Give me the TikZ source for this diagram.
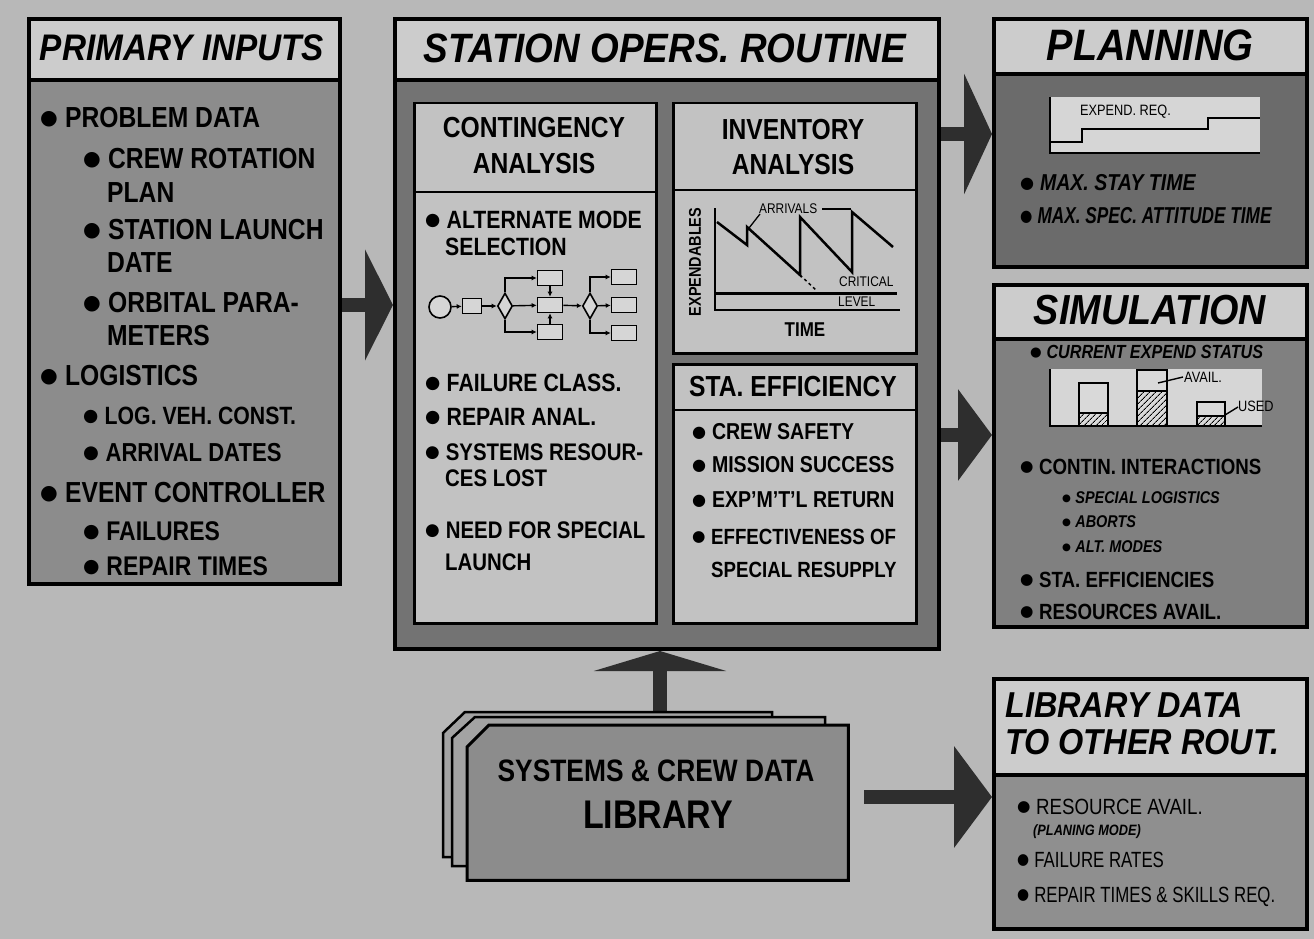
\documentclass[tikz,border=0pt]{standalone}
\usepackage{fontspec}
\setmainfont{Liberation Sans}[FakeStretch=0.85]
\newfontfamily\hfont{Liberation Sans}[FakeStretch=0.9]
\newfontfamily\dv{DejaVu Sans}
\usetikzlibrary{arrows.meta,shapes.geometric,patterns.meta,calc}
\definecolor{bgc}{gray}{0.72}
\definecolor{hdrc}{gray}{0.80}
\definecolor{bodyc}{gray}{0.55}
\definecolor{statc}{gray}{0.45}
\definecolor{panelc}{gray}{0.76}
\definecolor{planc}{gray}{0.42}
\definecolor{simc}{gray}{0.50}
\definecolor{ldc}{gray}{0.56}
\definecolor{libc}{gray}{0.55}
\definecolor{libb}{gray}{0.64}
\definecolor{arrc}{gray}{0.18}
\definecolor{chartc}{gray}{0.84}
\newcommand\fs[1]{\fontsize{#1}{#1}\selectfont}
\newcommand\bl{\raisebox{0.12em}{\scalebox{0.7}{\dv ●}}\hspace{0.25em}}
\newcommand\sbl{\raisebox{0.12em}{\scalebox{0.6}{\dv ●}}\hspace{0.25em}}
\begin{document}
\begin{tikzpicture}[x=1pt,y=-1pt,
  box/.style={draw=black, line width=4pt, inner sep=0pt, anchor=north west},
  panel/.style={draw=black, line width=2.5pt, fill=panelc, inner sep=0pt, anchor=north west},
  t/.style={anchor=west, inner sep=0pt, font=\bfseries\fs{#1}},
  ti/.style={anchor=west, inner sep=0pt, font=\bfseries\itshape\fs{#1}},
  tn/.style={anchor=west, inner sep=0pt, font=\fs{#1}},
  tc/.style={anchor=center, inner sep=0pt, font=\bfseries\fs{#1}},
  hd/.style={anchor=center, inner sep=0pt, font=\hfont\bfseries\itshape\fs{#1}},
  fb/.style={draw, line width=1.6pt, fill=chartc, inner sep=0pt, minimum width=25pt, minimum height=15pt},
  fd/.style={diamond, draw, line width=1.6pt, fill=chartc, inner sep=0pt, minimum width=15pt, minimum height=26pt},
  fa/.style={line width=1.4pt, -{Latex[length=5pt,width=5pt]}},
  bigarrow/.style={draw=arrc, line width=14pt}
]
\useasboundingbox (0,0) rectangle (1314,939);
\fill[bgc] (0,0) rectangle (1314,939);

% ---------------- PRIMARY INPUTS
\node[box, fill=bodyc, minimum width=311pt, minimum height=565pt] (prim) at (27,17) {};
\node[box, fill=hdrc, minimum width=311pt, minimum height=61pt] (primh) at (27,17) {};
\node[hd=37] (primt) at (182,48) {PRIMARY INPUTS};
\node[t=29] (p1) at (40,118) {\bl PROBLEM DATA};
\node[t=29] (p2) at (83,159) {\bl CREW ROTATION};
\node[t=29] (p3) at (107,193) {PLAN};
\node[t=29] (p4) at (83,230) {\bl STATION LAUNCH};
\node[t=29] (p5) at (107,263) {DATE};
\node[t=29] (p6) at (83,303) {\bl ORBITAL PARA-};
\node[t=29] (p7) at (107,336) {METERS};
\node[t=29] (p8) at (40,376) {\bl LOGISTICS};
\node[t=25] (p9) at (83,416) {\bl LOG. VEH. CONST.};
\node[t=26] (p10) at (83,453) {\bl ARRIVAL DATES};
\node[t=29] (p11) at (40,493) {\bl EVENT CONTROLLER};
\node[t=27] (p12) at (83,531) {\bl FAILURES};
\node[t=27] (p13) at (83,566) {\bl REPAIR TIMES};

% ---------------- STATION OPERS ROUTINE
\node[box, fill=statc, minimum width=544pt, minimum height=630pt] (stat) at (393,17) {};
\node[box, fill=hdrc, minimum width=544pt, minimum height=61pt] (stath) at (393,17) {};
\node[hd=41] (statt) at (665,48) {STATION OPERS. ROUTINE};

\node[panel, minimum width=242pt, minimum height=520pt] (cont) at (413,102) {};
\draw[line width=2pt] (413,192) -- (655,192);
\node[panel, minimum width=243pt, minimum height=250pt] (inv) at (672,102) {};
\draw[line width=2pt] (672,190) -- (915,190);
\node[panel, minimum width=243pt, minimum height=259pt] (eff) at (672,363) {};
\draw[line width=2pt] (672,410) -- (915,410);

% contingency
\node[tc=29] (ch1) at (534,128) {CONTINGENCY};
\node[tc=29] (ch2) at (534,164) {ANALYSIS};
\node[t=25] (c1) at (425,220) {\bl ALTERNATE MODE};
\node[t=25] (c2) at (445,247) {SELECTION};
\node[t=25] (c3) at (425,383) {\bl FAILURE CLASS.};
\node[t=25] (c4) at (425,417) {\bl REPAIR ANAL.};
\node[t=24] (c5) at (425,452) {\bl SYSTEMS RESOUR-};
\node[t=24] (c6) at (445,478) {CES LOST};
\node[t=24] (c7) at (425,530) {\bl NEED FOR SPECIAL};
\node[t=24] (c8) at (445,562) {LAUNCH};

% flow chart
\node[circle, draw, line width=1.6pt, fill=chartc, minimum size=22pt, inner sep=0pt] (f0) at (440,307) {};
\node[fb, minimum width=19pt] (f1) at (472,306) {};
\node[fd] (f2) at (505,306) {};
\node[fb] (f3) at (550,278) {};
\node[fb] (f4) at (550,305) {};
\node[fb] (f5) at (550,332) {};
\node[fd] (f6) at (590,306) {};
\node[fb] (f7) at (624,277) {};
\node[fb] (f8) at (624,305) {};
\node[fb] (f9) at (624,333) {};
\draw[fa] (f0) -- (f1);
\draw[fa] (f1) -- (f2);
\draw[fa] (f2.north) |- (f3.west);
\draw[fa] (f2) -- (f4);
\draw[fa] (f2.south) |- (f5.west);
\draw[fa] (f3) -- (f4);
\draw[fa] (f5) -- (f4);
\draw[fa] (f4) -- (f6);
\draw[fa] (f6.north) |- (f7.west);
\draw[fa] (f6) -- (f8);
\draw[fa] (f6.south) |- (f9.west);

% inventory
\node[tc=29] (ih1) at (793,130) {INVENTORY};
\node[tc=29] (ih2) at (793,165) {ANALYSIS};
\draw[line width=2pt] (715,208) -- (715,310) -- (900,310);
\draw[line width=3pt] (715,293) -- (897,293);
\draw[line width=2.5pt, line join=miter] (717,222) -- (747,245) -- (747,227) -- (800,275) -- (800,217) -- (852,272) -- (852,212) -- (893,247);
\draw[line width=1.5pt, dashed] (800,275) -- (817,291);
\node[tn=14] (iarr) at (759,209) {ARRIVALS};
\draw[line width=1.3pt] (760,214) -- (749,228);
\draw[line width=1.3pt] (822,209) -- (851,209);
\node[tn=14] (icrit) at (839,282) {CRITICAL};
\node[tn=14] (ilev) at (838,302) {LEVEL};
\node[tc=17, rotate=90] (iexp) at (695,262) {EXPENDABLES};
\node[tc=20] (itime) at (805,330) {TIME};

% sta. efficiency
\node[tc=29] (eh) at (793,387) {STA. EFFICIENCY};
\node[t=23] (e1) at (692,432) {\bl CREW SAFETY};
\node[t=23] (e2) at (692,465) {\bl MISSION SUCCESS};
\node[t=23] (e3) at (692,500) {\bl EXP'M'T'L RETURN};
\node[t=22] (e4) at (692,537) {\bl EFFECTIVENESS OF};
\node[t=22] (e5) at (711,570) {SPECIAL RESUPPLY};

% ---------------- PLANNING
\node[box, fill=planc, minimum width=313pt, minimum height=248pt] (plan) at (992,17) {};
\node[box, fill=hdrc, minimum width=313pt, minimum height=55pt] (planh) at (992,17) {};
\node[hd=44] (plant) at (1150,45) {PLANNING};
\fill[chartc] (1050,97) rectangle (1260,153);
\draw[line width=2pt] (1050,97) -- (1050,153) -- (1260,153);
\draw[line width=2.5pt] (1050,142) -- (1082,142) -- (1082,129) -- (1208,129) -- (1208,118) -- (1260,118);
\node[tn=15] (pexp) at (1080,112) {EXPEND. REQ.};
\node[ti=23] (pl1) at (1020,183) {\bl MAX. STAY TIME};
\node[ti=23] (pl2) at (1020,216) {\scalebox{0.88}[1]{\bl MAX. SPEC. ATTITUDE TIME}};

% ---------------- SIMULATION
\node[box, fill=simc, minimum width=313pt, minimum height=342pt] (sim) at (992,283) {};
\node[box, fill=hdrc, minimum width=313pt, minimum height=54pt] (simh) at (992,283) {};
\node[hd=42] (simt) at (1150,310) {SIMULATION};
\node[ti=19] (s1) at (1030,352) {\bl CURRENT EXPEND STATUS};
\fill[chartc] (1050,369) rectangle (1262,426);
\draw[line width=2pt] (1050,369) -- (1050,426) -- (1262,426);
\foreach \xa/\xb/\yt/\yh in {1079/1108/383/413, 1137/1167/370/391, 1197/1225/402/416}{
  \fill[white!85!black] (\xa,\yt) rectangle (\xb,426);
  \fill[pattern={Lines[angle=45,distance=4pt,line width=0.9pt]}] (\xa,\yh) rectangle (\xb,426);
  \draw[line width=2pt] (\xa,\yt) rectangle (\xb,426);
  \draw[line width=1.5pt] (\xa,\yh) -- (\xb,\yh);
}
\draw[line width=1.4pt] (1158,383) -- (1183,377);
\node[tn=15] (savail) at (1184,377) {AVAIL.};
\draw[line width=1.4pt] (1225,415) -- (1238,407);
\node[tn=15] (sused) at (1238,406) {USED};
\node[t=22] (s2) at (1020,467) {\bl CONTIN. INTERACTIONS};
\node[ti=17] (s3) at (1062,498) {\sbl SPECIAL LOGISTICS};
\node[ti=17] (s4) at (1062,522) {\sbl ABORTS};
\node[ti=17] (s5) at (1062,547) {\sbl ALT. MODES};
\node[t=22] (s6) at (1020,580) {\bl STA. EFFICIENCIES};
\node[t=22] (s7) at (1020,612) {\bl RESOURCES AVAIL.};

% ---------------- LIBRARY DATA TO OTHER ROUT.
\node[box, fill=ldc, minimum width=313pt, minimum height=250pt] (ldat) at (992,677) {};
\node[box, fill=hdrc, minimum width=313pt, minimum height=96pt] (ldath) at (992,677) {};
\node[hd=36, anchor=west] (lt1) at (1005,705) {LIBRARY DATA};
\node[hd=36, anchor=west] (lt2) at (1005,742) {TO OTHER ROUT.};
\node[tn=22] (l1) at (1017,807) {\bl RESOURCE AVAIL.};
\node[ti=15] (l2) at (1033,832) {(PLANING MODE)};
\node[tn=22] (l3) at (1017,860) {\scalebox{0.9}[1]{\bl FAILURE RATES}};
\node[tn=22] (l4) at (1017,897) {\scalebox{0.9}[1]{\bl REPAIR TIMES \& SKILLS REQ.}};

% ---------------- LIBRARY STACK
\node[minimum width=381pt, minimum height=155pt, anchor=north west, inner sep=0pt] (lib) at (467,725) {};
\coordinate (ua) at (660,0);
\draw[bigarrow, -{Triangle[length=20pt,width=132pt]}] (lib.north -| ua) -- (stat.south -| ua);
\filldraw[fill=libb, draw=black, line width=2.5pt] (443,857) -- (443,733) -- (465,712) -- (772,712) -- (772,740) -- (600,857) -- cycle;
\filldraw[fill=libb, draw=black, line width=2.5pt] (452,866) -- (452,738) -- (475,717) -- (825,717) -- (825,740) -- (700,866) -- cycle;
\filldraw[fill=libc, draw=black, line width=3pt] (lib.south west) -- ($(lib.north west)+(0,22)$) -- ($(lib.north west)+(22,0)$) -- (lib.north east) -- (lib.south east) -- cycle;
\node[tc=31] (lb1) at (656,771) {SYSTEMS \& CREW DATA};
\node[tc=40] (lb2) at (658,815) {LIBRARY};

% ---------------- BIG ARROWS
\coordinate (y1) at (0,305);
\draw[bigarrow, -{Triangle[length=28pt,width=110pt]}] (prim.east |- y1) -- (stat.west |- y1);
\coordinate (y2) at (0,134);
\draw[bigarrow, -{Triangle[length=28pt,width=120pt]}] (stat.east |- y2) -- (plan.west |- y2);
\coordinate (y3) at (0,435);
\draw[bigarrow, -{Triangle[length=34pt,width=90pt]}] (stat.east |- y3) -- (sim.west |- y3);
\coordinate (y4) at (0,797);
\draw[bigarrow, shorten <=16pt, -{Triangle[length=38pt,width=100pt]}] (lib.east |- y4) -- (ldat.west |- y4);
\end{tikzpicture}
\end{document}
